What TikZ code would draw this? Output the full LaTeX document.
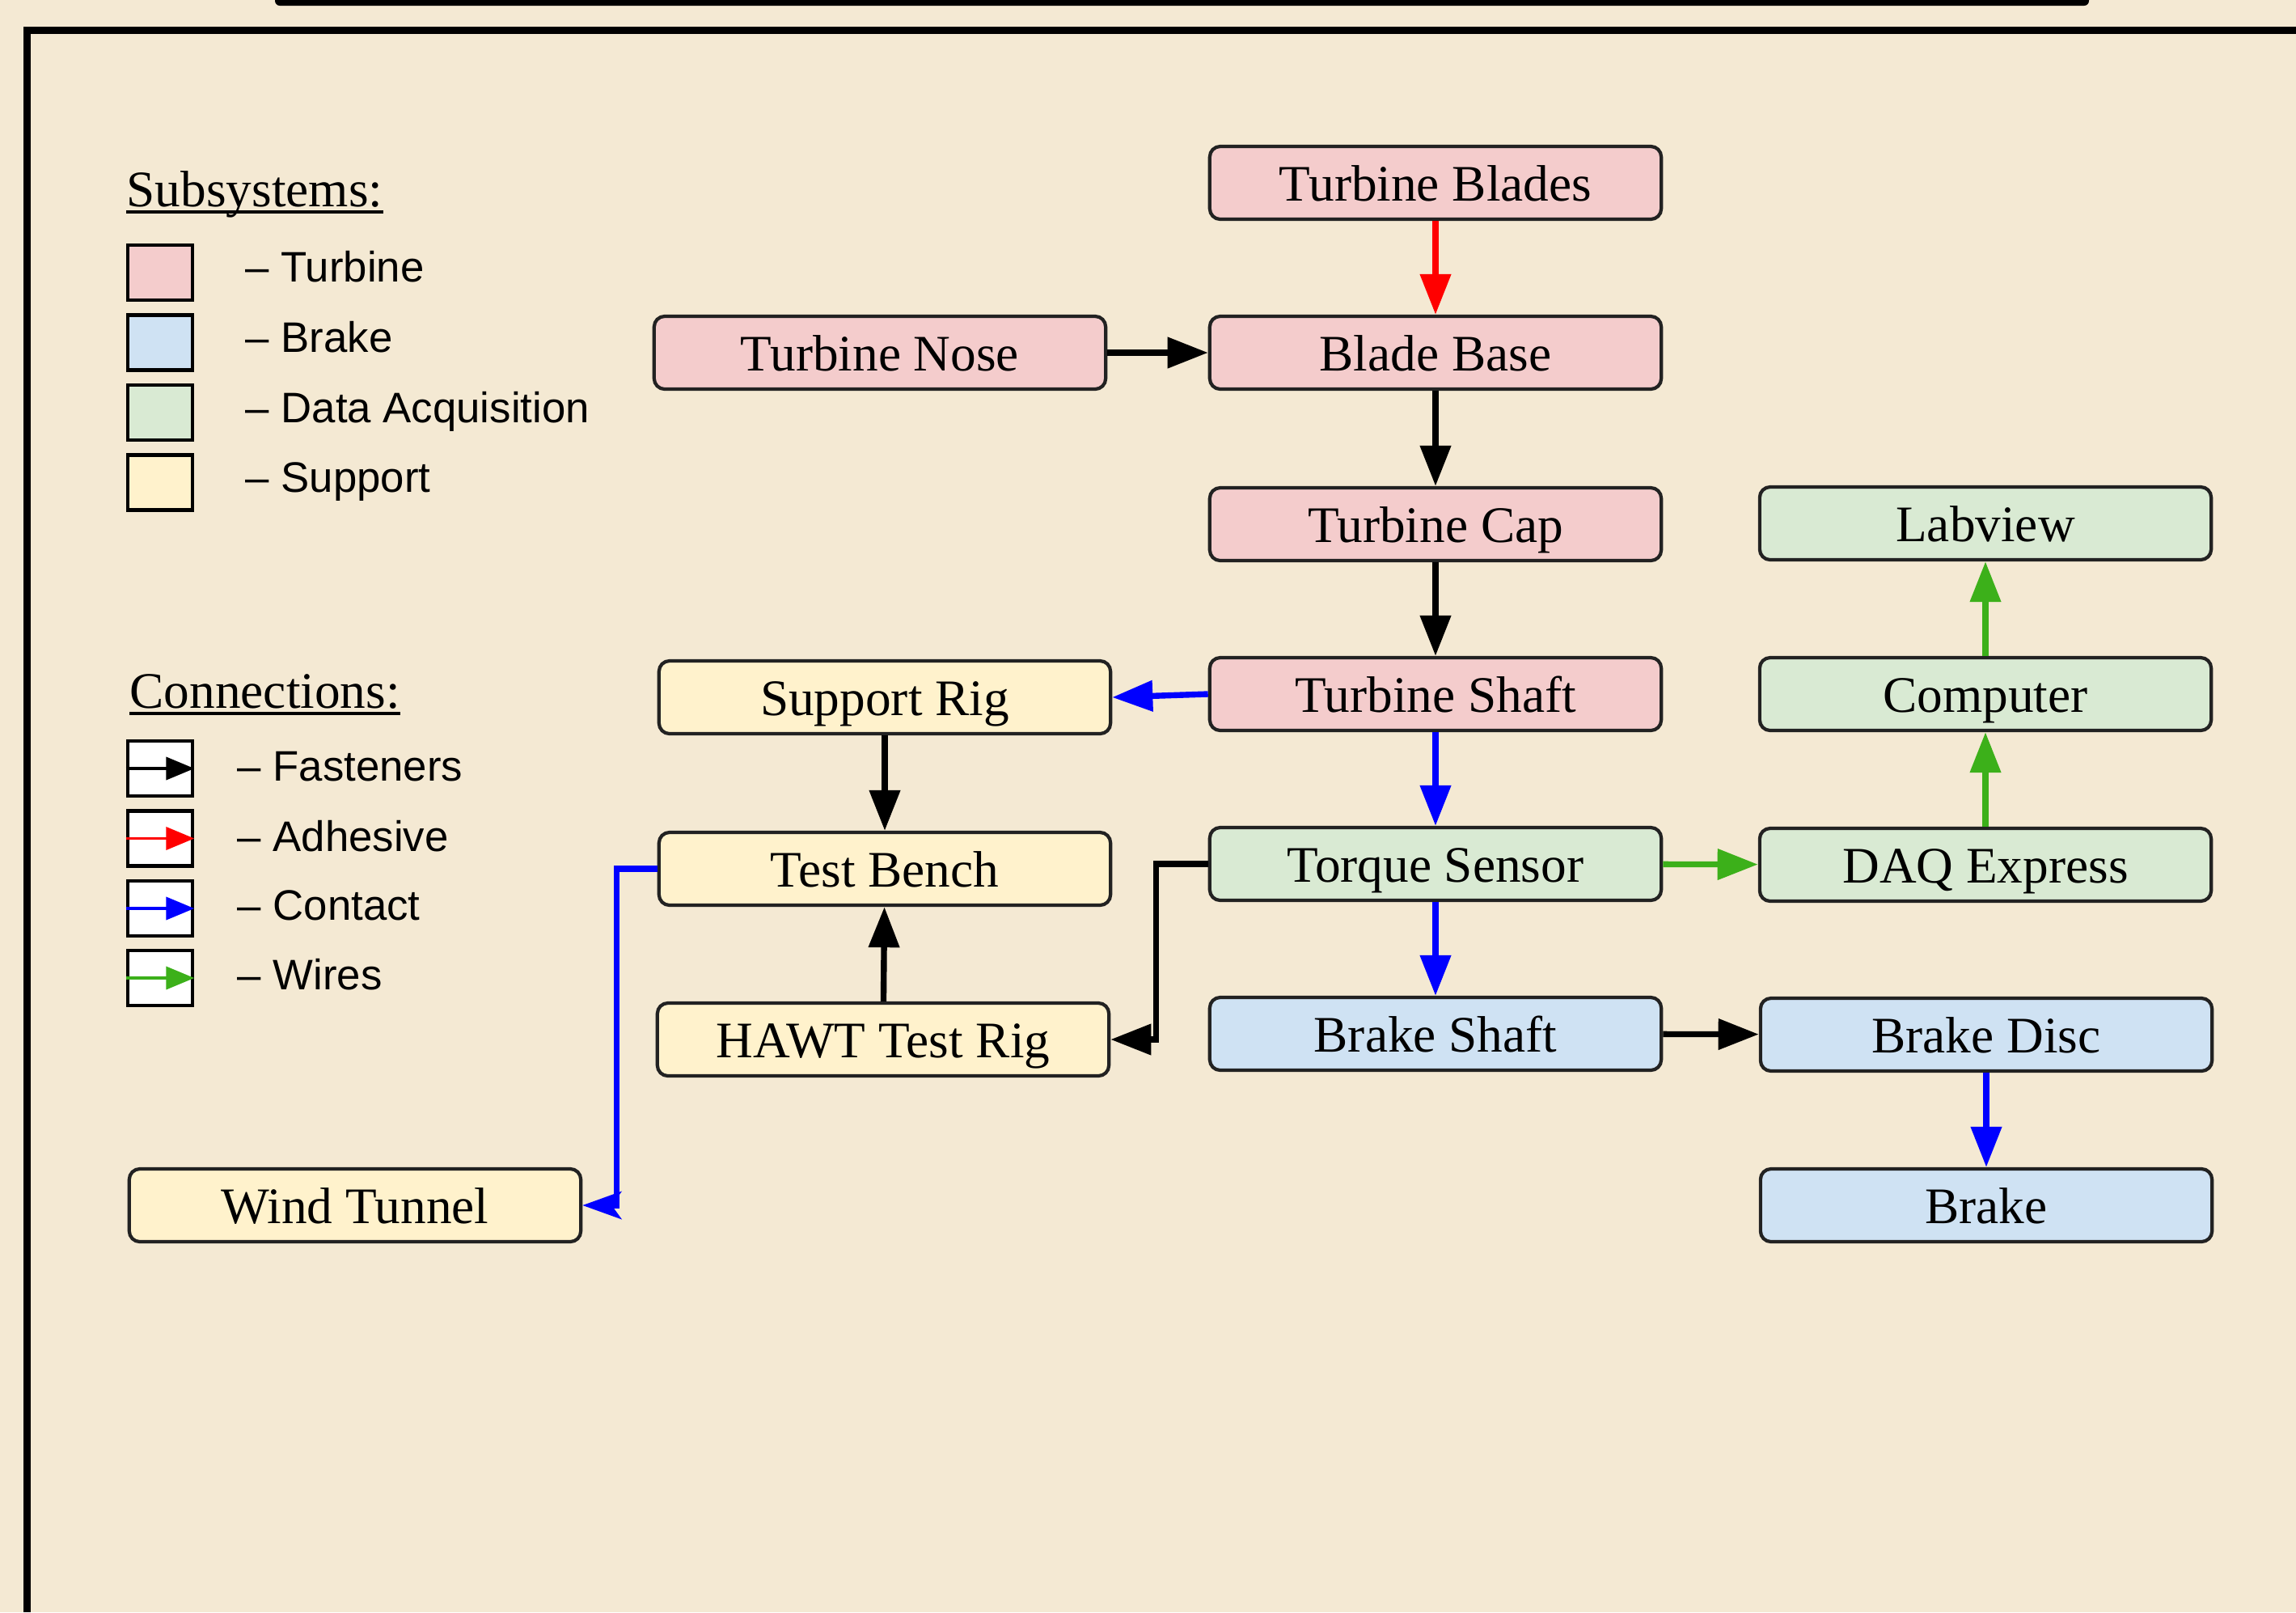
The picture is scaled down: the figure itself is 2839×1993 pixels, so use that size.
\documentclass[tikz,border=0pt]{standalone}
\usepackage{fontspec}
\setmainfont{Liberation Serif}
\newfontfamily\legendfont{Liberation Sans}
\usepackage{tikz}
\usetikzlibrary{arrows.meta}
\definecolor{Fondo}{HTML}{F4E9D3}
\definecolor{TurbinePink}{HTML}{F4CCCC}
\definecolor{BrakeBlue}{HTML}{CFE2F3}
\definecolor{DaqGreen}{HTML}{D9EAD3}
\definecolor{SupportYellow}{HTML}{FFF2CC}
\definecolor{WireGreen}{HTML}{3CB01A}
\definecolor{BoxLine}{HTML}{222222}

\begin{document}
\begin{tikzpicture}[x = 0.01cm, y = -0.01cm,
  partbox/.style = {draw = BoxLine, line width = 1.2pt, rounded corners = 0.13cm,
    minimum width = 5.58cm, minimum height = 0.9cm, inner sep = 0pt,
    text height = 13pt, text depth = 0pt, font = \fontsize{18}{22}\selectfont},
  turbine/.style = {partbox, fill = TurbinePink},
  brake/.style = {partbox, fill = BrakeBlue},
  daq/.style = {partbox, fill = DaqGreen},
  support/.style = {partbox, fill = SupportYellow},
  link/.style = {line width = 2.1pt, -{Triangle[length = 0.5cm, width = 0.37cm]}},
  fasten/.style = {link, draw = black},
  adhesive/.style = {link, draw = red},
  contact/.style = {link, draw = blue},
  wires/.style = {link, draw = WireGreen},
  swatch/.style = {draw = black, line width = 1.3pt, minimum width = 0.8cm,
    minimum height = 0.68cm, inner sep = 0pt},
  keyarrow/.style = {line width = 1.1pt, -{Triangle[length = 0.35cm, width = 0.28cm]}},
  legendtext/.style = {anchor = base west, inner sep = 0pt,
    font = \legendfont\fontsize{15}{18}\selectfont},
  heading/.style = {anchor = base west, inner sep = 0pt, font = \fontsize{18}{22}\selectfont}]

  \path[use as bounding box, fill = Fondo] (0,0) rectangle (2839,1993);

  \fill[rounded corners = 0.06cm] (340,-20) rectangle (2583,7);
  \draw[line width = 0.09cm] (2839,37.5) -| (33.5,1993);

  % legend
  \node[heading] (subs) at (156,255) {Subsystems:};
  \draw[line width = 1pt] ([yshift = -0.07cm]subs.base west) -- ([yshift = -0.07cm]subs.base east);

  \node[swatch, fill = TurbinePink] (kturbine) at (198,337) {};
  \node[swatch, fill = BrakeBlue] (kbrake) at (198,423.5) {};
  \node[swatch, fill = DaqGreen] (kdaq) at (198,510) {};
  \node[swatch, fill = SupportYellow] (ksupport) at (198,596.5) {};

  \node[legendtext] at (303,348) {– Turbine};
  \node[legendtext] at (303,435) {– Brake};
  \node[legendtext] at (303,522) {– Data Acquisition};
  \node[legendtext] at (303,608) {– Support};

  \node[heading] (conns) at (160,875) {Connections:};
  \draw[line width = 1pt] ([yshift = -0.07cm]conns.base west) -- ([yshift = -0.07cm]conns.base east);

  \node[swatch, fill = white] (kfasten) at (198,950) {};
  \node[swatch, fill = white] (kadhesive) at (198,1036.5) {};
  \node[swatch, fill = white] (kcontact) at (198,1123) {};
  \node[swatch, fill = white] (kwires) at (198,1209) {};

  \draw[keyarrow, draw = black] (kfasten.west) -- (kfasten.east);
  \draw[keyarrow, draw = red] (kadhesive.west) -- (kadhesive.east);
  \draw[keyarrow, draw = blue] (kcontact.west) -- (kcontact.east);
  \draw[keyarrow, draw = WireGreen] (kwires.west) -- (kwires.east);

  \node[legendtext] at (293,965) {– Fasteners};
  \node[legendtext] at (293,1052) {– Adhesive};
  \node[legendtext] at (293,1137) {– Contact};
  \node[legendtext] at (293,1223) {– Wires};

  % parts
  \node[turbine] (blades) at (1775,226) {Turbine Blades};
  \node[turbine] (bladebase) at (1775,436) {Blade Base};
  \node[turbine] (nose) at (1088,436) {Turbine Nose};
  \node[turbine] (cap) at (1775,648) {Turbine Cap};
  \node[turbine] (shaft) at (1775,858) {Turbine Shaft};
  \node[daq] (torque) at (1775,1068) {Torque Sensor};
  \node[brake] (brakeshaft) at (1775,1278) {Brake Shaft};

  \node[daq] (labview) at (2455,647) {Labview};
  \node[daq] (computer) at (2455,858) {Computer};
  \node[daq] (daqx) at (2455,1069) {DAQ Express};
  \node[brake] (disc) at (2456,1279) {Brake Disc};
  \node[brake] (brk) at (2456,1490) {Brake};

  \node[support] (rig) at (1094,862) {Support Rig};
  \node[support] (bench) at (1094,1074) {Test Bench};
  \node[support] (hawt) at (1092,1285) {HAWT Test Rig};
  \node[support] (tunnel) at (439,1490) {Wind Tunnel};

  % connections
  \draw[adhesive] (blades) -- (bladebase);
  \draw[fasten] (nose) -- (bladebase);
  \draw[fasten] (bladebase) -- (cap);
  \draw[fasten] (cap) -- (shaft);
  \draw[contact] (shaft.west) -- (rig.east);
  \draw[contact] (shaft) -- (torque);
  \draw[fasten] (rig) -- (bench);
  \draw[fasten] (hawt) -- (bench);
  \draw[fasten] (torque.west) -- ++(-64,0) |- (hawt.east);
  \draw[contact, -{Stealth[length = 0.48cm, width = 0.34cm, inset = 0.12cm]}]
    (bench.west) -- ++(-50,0) |- (tunnel.east);
  \draw[wires] (torque) -- (daqx);
  \draw[contact] (torque) -- (brakeshaft);
  \draw[fasten] (brakeshaft) -- (disc);
  \draw[contact] (disc) -- (brk);
  \draw[wires] (daqx) -- (computer);
  \draw[wires] (computer) -- (labview);
\end{tikzpicture}
\end{document}
